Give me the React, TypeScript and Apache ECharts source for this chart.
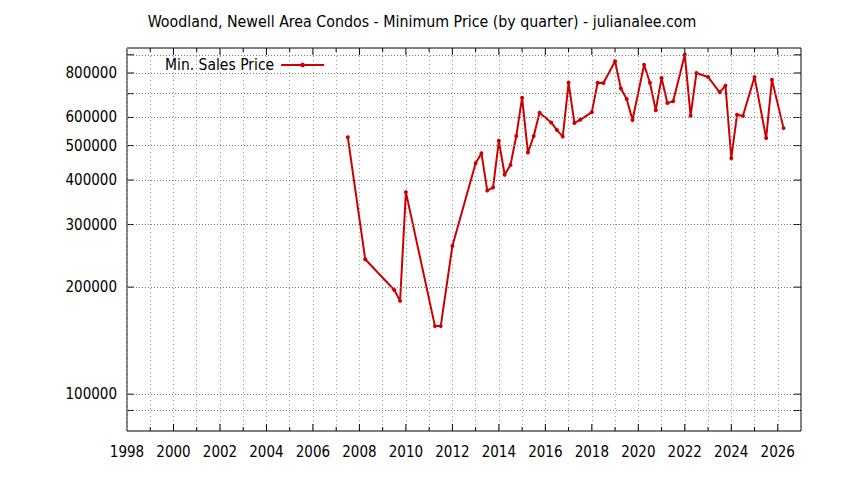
import * as echarts from 'echarts'
import React, { useEffect, useRef } from 'react'

const FONT = '"DejaVu Sans Condensed", "Liberation Sans", sans-serif'
const lineColor = '#cc0000'

// quarter (decimal year) and the minimum sale price of that quarter
const quarters: number[] = [
  2007.5, 2008.25, 2009.5, 2009.75, 2010.0, 2011.25, 2011.5, 2012.0,
  2013.0, 2013.25, 2013.5, 2013.75, 2014.0, 2014.25, 2014.5, 2014.75,
  2015.0, 2015.25, 2015.5, 2015.75, 2016.25, 2016.5, 2016.75, 2017.0,
  2017.25, 2017.5, 2018.0, 2018.25, 2018.5, 2019.0, 2019.25, 2019.5,
  2019.75, 2020.25, 2020.5, 2020.75, 2021.0, 2021.25, 2021.5, 2022.0,
  2022.25, 2022.5, 2023.0, 2023.5, 2023.75, 2024.0, 2024.25, 2024.5,
  2025.0, 2025.5, 2025.75, 2026.25,
]
const minPrice: number[] = [
  528000, 239500, 196300, 183000, 370000, 155400, 155400, 261000,
  446000, 476000, 374000, 381000, 516000, 414000, 441000, 532000,
  682000, 478000, 532000, 619000, 581000, 553000, 530000, 751000,
  579000, 591000, 621000, 751000, 750000, 863000, 724000, 676000,
  590000, 844000, 751000, 629000, 775000, 659000, 666000, 901000,
  607000, 800000, 780000, 706000, 737000, 461000, 611000, 606000,
  780000, 525000, 766000, 560000,
]

const X_MIN = 1998
const X_MAX = 2027
const Y_MIN = 78800
const Y_MAX = 940700

const yGridValues: number[] = [
  90000, 100000, 200000, 300000, 400000, 500000, 600000, 700000, 800000, 900000,
]
const yLabelValues: number[] = [
  100000, 200000, 300000, 400000, 500000, 600000, 800000,
]

export default function App() {
  const chartRef = useRef<HTMLDivElement>(null)

  useEffect(() => {
    const chart = echarts.init(chartRef.current, null, { renderer: 'svg' })

    const xTicks: number[][] = []
    for (let y = X_MIN + 1; y < X_MAX; y++) xTicks.push([y, Y_MIN])
    const yTicks: number[][] = yGridValues.map((v) => [X_MIN, v])

    const option = {
      animation: false,
      textStyle: { fontFamily: FONT },
      title: {
        text: 'Woodland, Newell Area Condos - Minimum Price (by quarter) - julianalee.com',
        left: 'center',
        top: 8,
        textStyle: {
          fontFamily: FONT,
          fontSize: 15.8,
          fontWeight: 'normal',
          color: '#000',
        },
      },
      legend: {
        data: ['Min. Sales Price'],
        left: 165,
        top: 57,
        padding: 0,
        align: 'right',
        itemWidth: 43,
        itemHeight: 6,
        textStyle: { fontFamily: FONT, fontSize: 15.5, color: '#000', padding: [0, 2, 0, 0] },
      },
      grid: {
        left: 127,
        right: 43,
        top: 48,
        bottom: 49,
        show: true,
        borderColor: '#000',
        borderWidth: 1,
      },
      xAxis: {
        type: 'value',
        min: X_MIN,
        max: X_MAX,
        interval: 1,
        axisLine: { show: false },
        axisTick: { show: false },
        axisLabel: {
          margin: 13,
          fontFamily: FONT,
          fontSize: 15,
          color: '#000',
          showMaxLabel: false,
          formatter: (v: number) => (v % 2 === 0 ? String(v) : ''),
        },
        splitLine: {
          show: true,
          lineStyle: { color: '#a0a0a0', type: [1, 3], width: 1 },
        },
      },
      yAxis: {
        type: 'log',
        logBase: 10,
        min: Y_MIN,
        max: Y_MAX,
        axisLine: { show: false },
        axisTick: { show: false },
        axisLabel: { show: false },
        splitLine: { show: false },
      },
      series: [
        {
          name: 'xticks',
          type: 'custom',
          z: 1,
          silent: true,
          clip: false,
          data: xTicks,
          renderItem: (params: any, api: any) => {
            const v = api.value(0)
            const len = v % 2 === 0 ? 7 : 4
            const b = api.coord([v, Y_MIN])
            const t = api.coord([v, Y_MAX])
            const style = { stroke: '#000', lineWidth: 1 }
            return {
              type: 'group',
              children: [
                { type: 'line', shape: { x1: b[0], y1: b[1], x2: b[0], y2: b[1] - len }, style },
                { type: 'line', shape: { x1: t[0], y1: t[1], x2: t[0], y2: t[1] + len }, style },
              ],
            }
          },
          markLine: {
            silent: true,
            symbol: ['none', 'none'],
            animation: false,
            lineStyle: { color: '#777', type: [1, 2], width: 1 },
            label: {
              position: 'start',
              distance: 10,
              fontFamily: FONT,
              fontSize: 15,
              color: '#000',
              formatter: (p: any) =>
                yLabelValues.indexOf(p.value) >= 0 ? String(p.value) : '',
            },
            emphasis: { disabled: true },
            data: yGridValues.map((v) => ({ yAxis: v })),
          },
        },
        {
          name: 'yticks',
          type: 'custom',
          z: 1,
          silent: true,
          clip: false,
          data: yTicks,
          renderItem: (params: any, api: any) => {
            const v = api.value(1)
            const l = api.coord([X_MIN, v])
            const r = api.coord([X_MAX, v])
            const style = { stroke: '#000', lineWidth: 1 }
            return {
              type: 'group',
              children: [
                { type: 'line', shape: { x1: l[0], y1: l[1], x2: l[0] + 7, y2: l[1] }, style },
                { type: 'line', shape: { x1: r[0], y1: r[1], x2: r[0] - 7, y2: r[1] }, style },
              ],
            }
          },
        },
        {
          name: 'Min. Sales Price',
          type: 'line',
          z: 3,
          data: quarters.map((q, i) => [q, minPrice[i]]),
          symbol: 'circle',
          symbolSize: 4,
          itemStyle: { color: lineColor },
          lineStyle: { color: lineColor, width: 2 },
        },
      ],
    }

    chart.setOption(option)

    return () => {
      chart.dispose()
    }
  }, [])

  return (
    <div
      ref={chartRef}
      style={{ position: 'fixed', left: 0, top: 0, width: '844px', height: '480px', background: '#fff' }}
    />
  )
}
